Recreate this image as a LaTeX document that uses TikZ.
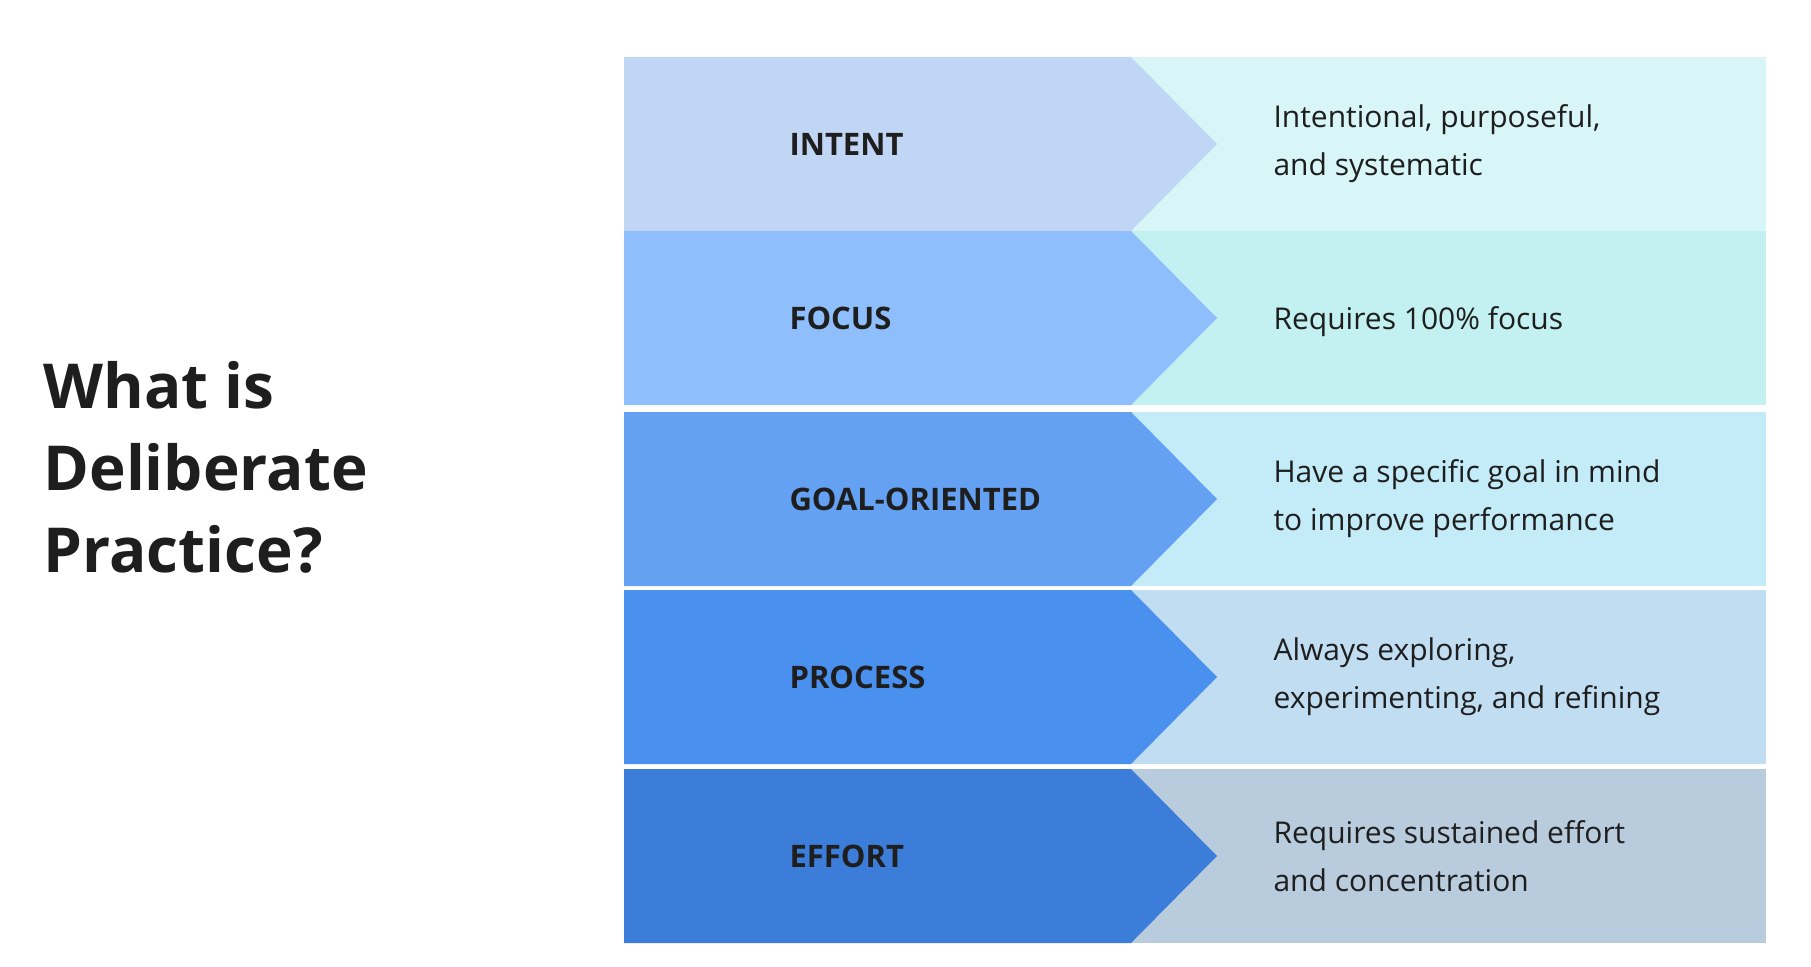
\documentclass[tikz,border=0pt]{standalone}
\usepackage{fontspec}
\setmainfont{Open Sans}
\definecolor{txt}{HTML}{1E1E1E}
\begin{document}
\begin{tikzpicture}[x=1pt,y=-1pt,
  lab/.style={anchor=west,font=\fontsize{31}{36}\selectfont\bfseries,text=txt},
  desc/.style={anchor=west,align=left,font=\fontsize{30}{48}\selectfont,text=txt},
  ttl/.style={anchor=west,align=left,font=\fontsize{62}{82}\selectfont\bfseries,text=txt}]
\useasboundingbox (0,0) rectangle (1811,966);
\fill[white] (0,0) rectangle (1811,966);
\foreach \t/\lc/\rc [count=\i] in {57/C1D6F5/D8F6F7,231/8FBEFD/C3F1F1,412/64A1F2/C3EBF8,590/4A90EE/C0DDF2,769/3D7DDA/B9CCDD}{
  \definecolor{lc}{HTML}{\lc}\definecolor{rc}{HTML}{\rc}
  \fill[rc] (1131,\t) rectangle (1766,\t+174);
  \fill[lc] (624,\t) -- (1131,\t) -- (1217,\t+87) -- (1131,\t+174) -- (624,\t+174) -- cycle;
}
\node[ttl] (title) at (40,467) {What is\\Deliberate\\Practice?};
\node[lab] (l1) at (786,144) {INTENT};
\node[lab] (l2) at (786,318) {FOCUS};
\node[lab] (l3) at (786,499) {GOAL-ORIENTED};
\node[lab] (l4) at (786,677) {PROCESS};
\node[lab] (l5) at (786,856) {EFFORT};
\node[desc] (d1) at (1270,144) {Intentional, purposeful,\\and systematic};
\node[desc] (d2) at (1270,322) {Requires 100\% focus};
\node[desc] (d3) at (1270,499) {Have a specific goal in mind\\to improve performance};
\node[desc] (d4) at (1270,677) {Always exploring,\\experimenting, and refining};
\node[desc] (d5) at (1270,856) {Requires sustained effort\\and concentration};
\end{tikzpicture}
\end{document}
